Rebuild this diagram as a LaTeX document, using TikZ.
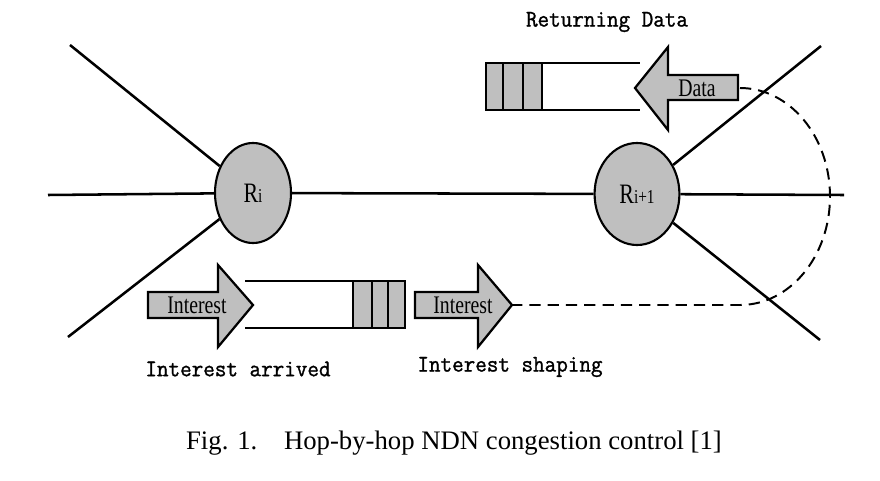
\documentclass[tikz,border=0pt]{standalone}
\usepackage{fontspec}
\setmainfont{Liberation Serif}
\newfontfamily\narrowserif[FakeStretch=0.78]{Liberation Serif}
\newfontfamily\labelmono[FakeBold=1.2, FakeStretch=0.94]{Latin Modern Mono}
\usetikzlibrary{shapes.geometric, positioning}

\begin{document}
\begin{tikzpicture}[
        x=0.025cm, y=-0.025cm,
        link/.style={line width=1.8pt},
        router/.style={ellipse, draw, line width=1.5pt, fill=black!25, inner sep=0pt},
        blockarrow/.style={draw, line width=1.6pt, fill=black!25, line join=miter},
        pipe/.style={line width=1.5pt},
        cell/.style={draw, line width=1.5pt, fill=black!25},
        tag_txt/.style={font=\narrowserif\fontsize{18}{18}\selectfont, inner sep=0pt},
        label_txt/.style={font=\labelmono\fontsize{17}{17}\selectfont},
        feedback/.style={line width=1.4pt, dash pattern=on 8pt off 5pt}
    ]
    \useasboundingbox (0,0) rectangle (880,480);

    % Routers
    \node (Ri) [router, minimum width=1.9cm, minimum height=2.5cm] at (253,193)
        {\narrowserif{\fontsize{20}{20}\selectfont R}{\fontsize{14}{14}\selectfont i}};
    \node (Rj) [router, minimum width=2.12cm, minimum height=2.55cm] at (637,194)
        {\narrowserif{\fontsize{20}{20}\selectfont R}{\fontsize{14}{14}\selectfont i+1}};

    % Links
    \coordinate (wl) at (48,195);
    \coordinate (nwl) at (70,45);
    \coordinate (swl) at (68,337);
    \coordinate (el) at (844,195);
    \coordinate (nel) at (821,46);
    \coordinate (sel) at (820,340);
    \draw[link] (wl) -- (Ri);
    \draw[link] (nwl) -- (Ri);
    \draw[link] (swl) -- (Ri);
    \draw[link] (Ri) -- (Rj);
    \draw[link] (Rj) -- (el);
    \draw[link] (Rj) -- (nel);
    \draw[link] (Rj) -- (sel);

    % Returning data
    \draw[pipe] (486,63) -- (640,63);
    \draw[pipe] (486,110) -- (640,110);
    \foreach \a/\b in {486/503, 503/523, 523/542}
        \draw[cell] (\a,63) rectangle (\b,110);
    \draw[blockarrow] (738,75) -- (668,75) -- (668,47) -- (635,88) -- (668,130)
        -- (668,100) -- (738,100) -- cycle;
    \node (dat) [tag_txt] at (697,88) {Data};
    \coordinate (dtail) at (740,88);
    \node (lblret) [label_txt] at (607,22) {Returning Data};

    % Interest arrived / shaping
    \draw[pipe] (245,281) -- (405,281);
    \draw[pipe] (245,328) -- (405,328);
    \foreach \a/\b in {353/372, 372/388, 388/405}
        \draw[cell] (\a,281) rectangle (\b,328);
    \draw[blockarrow] (148,292) -- (218,292) -- (218,265) -- (253,305) -- (218,347)
        -- (218,318) -- (148,318) -- cycle;
    \node (intin) [tag_txt] at (197,305) {Interest};
    \draw[blockarrow] (415,292) -- (478,292) -- (478,265) -- (512,305) -- (478,347)
        -- (478,318) -- (415,318) -- cycle;
    \node (intout) [tag_txt] at (463,305) {Interest};
    \coordinate (itip) at (512,305);
    \node (lblarr) [label_txt] at (238,369) {Interest arrived};
    \node (lblshp) [label_txt] at (510,367) {Interest shaping};

    % Feedback path
    \draw[feedback] (dtail) arc[start angle=-90, end angle=90, x radius=90, y radius=108.5] -- (itip);

    \node (cap) [font=\fontsize{19}{19}\selectfont] at (454,443)
        {Fig. 1.\quad Hop-by-hop NDN congestion control [1]};
\end{tikzpicture}
\end{document}
